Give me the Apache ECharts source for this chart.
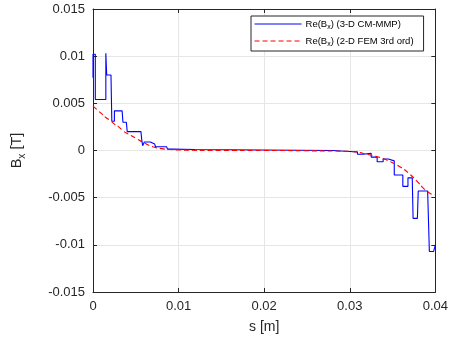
<!DOCTYPE html>
<html>
<head>
<meta charset="utf-8">
<script src="https://cdn.jsdelivr.net/npm/echarts@6/dist/echarts.min.js"></script>
<style>html,body{margin:0;padding:0;background:#fff;}#c{width:451px;height:343px;}</style>
</head>
<body>
<div id="c"></div>
<script>
// Blue series: Re(Bx) (3-D CM-MMP), staircase samples
const blueS = [0, 0, 0.00027, 0.00027, 0.0015, 0.0015, 0.0016, 0.0016, 0.0021, 0.0022, 0.0025, 0.0025, 0.0034, 0.0035, 0.0039, 0.0040, 0.0056, 0.0057, 0.0058, 0.0060, 0.0067, 0.0068, 0.0072, 0.0073, 0.0086, 0.0087, 0.0093, 0.0094, 0.0119, 0.0120, 0.028, 0.030, 0.0309, 0.0309, 0.0315, 0.0316, 0.0325, 0.0325, 0.0332, 0.0332, 0.0339, 0.0339, 0.0345, 0.0345, 0.0352, 0.0352, 0.0362, 0.0362, 0.0368, 0.0368, 0.0373, 0.0374, 0.0379, 0.0380, 0.0391, 0.0393, 0.0398, 0.0400];
const blueV = [0.0077, 0.0102, 0.0102, 0.0054, 0.0054, 0.0103, 0.0103, 0.0080, 0.0080, 0.0031, 0.0031, 0.0042, 0.0042, 0.0030, 0.0030, 0.0020, 0.0020, 0.0011, 0.0005, 0.0009, 0.0009, 0.0007, 0.0007, 0.0004, 0.0004, 0.00015, 0.00015, 0.0001, 0.0001, 0.0, 0.0, -0.0001, -0.00015, -0.0004, -0.0004, -0.0003, -0.0003, -0.0007, -0.0007, -0.0012, -0.0012, -0.0009, -0.0009, -0.0011, -0.0011, -0.0026, -0.0026, -0.0038, -0.0038, -0.0029, -0.0029, -0.0072, -0.0072, -0.0043, -0.0043, -0.0107, -0.0107, -0.0100];
// Red series: Re(Bx) (2-D FEM 3rd ord)
const redS = [0, 0.0005, 0.001, 0.0015, 0.002, 0.0025, 0.003, 0.0035, 0.004, 0.005, 0.006, 0.007, 0.008, 0.009, 0.01, 0.015, 0.02, 0.025, 0.03, 0.031, 0.032, 0.033, 0.034, 0.035, 0.036, 0.037, 0.038, 0.0385, 0.039, 0.0395, 0.04];
const redV = [0.0047, 0.0043, 0.0039, 0.0035, 0.0032, 0.0028, 0.0025, 0.0021, 0.0018, 0.0013, 0.0008, 0.0004, 0.0002, 0.0001, 0.00005, 0, 0, -0.00003, -0.0001, -0.0002, -0.0004, -0.0006, -0.0009, -0.0013, -0.0018, -0.0025, -0.0034, -0.0039, -0.0043, -0.0046, -0.0047];
const xTicks = [0, 0.01, 0.02, 0.03, 0.04];
const yTicks = [-0.015, -0.01, -0.005, 0, 0.005, 0.01, 0.015];
const seriesNames = ['Re(Bx) (3-D CM-MMP)', 'Re(Bx) (2-D FEM 3rd ord)'];
const legendRich = ['Re(B{sub|x}) (3-D CM-MMP)', 'Re(B{sub|x}) (2-D FEM 3rd ord)'];

const AX = '#262626';
const FONT = 'Liberation Sans, Arial, sans-serif';
const fmt = v => String(Math.round(v * 1000) / 1000);

const chart = echarts.init(document.getElementById('c'), null, {renderer: 'canvas'});
const xBase = {
  type: 'value', min: xTicks[0], max: xTicks[xTicks.length - 1], interval: 0.01,
  axisLine: {show: true, onZero: false, lineStyle: {color: AX, width: 1}},
  axisTick: {show: true, inside: true, length: 4, lineStyle: {color: AX}}
};
const yBase = {
  type: 'value', min: yTicks[0], max: yTicks[yTicks.length - 1], interval: 0.005,
  axisLine: {show: true, onZero: false, lineStyle: {color: AX, width: 1}},
  axisTick: {show: true, inside: true, length: 4, lineStyle: {color: AX}}
};
chart.setOption({
  animation: false,
  backgroundColor: '#fff',
  textStyle: {fontFamily: FONT},
  grid: {left: 93, right: 14, top: 9, bottom: 51, containLabel: false},
  legend: {
    orient: 'vertical', left: 251, top: 16,
    padding: [3, 10, 3, 3], itemWidth: 47, itemHeight: 12, itemGap: 5,
    borderColor: AX, borderWidth: 1, backgroundColor: '#fff', borderRadius: 0,
    data: seriesNames,
    itemStyle: {opacity: 0},
    lineStyle: {width: 1.1},
    formatter: name => legendRich[seriesNames.indexOf(name)],
    textStyle: {fontSize: 9.5, color: '#000', fontFamily: FONT, padding: [0, 0, 0, -1],
      rich: {sub: {fontSize: 7, verticalAlign: 'bottom', lineHeight: 14, fontFamily: FONT}}}
  },
  xAxis: [
    Object.assign({}, xBase, {
      position: 'bottom',
      name: 's [m]', nameLocation: 'middle', nameGap: 28,
      nameTextStyle: {fontSize: 14, color: AX, fontFamily: FONT},
      axisLabel: {show: true, fontSize: 13, color: AX, margin: 8, formatter: fmt, fontFamily: FONT},
      splitLine: {show: true, lineStyle: {color: '#e6e6e6', width: 1}}
    }),
    Object.assign({}, xBase, {
      position: 'top', axisLabel: {show: false}, splitLine: {show: false}
    })
  ],
  yAxis: [
    Object.assign({}, yBase, {
      position: 'left',
      name: 'B{sub|x} [T]', nameLocation: 'middle', nameGap: 66, nameRotate: 90,
      nameTextStyle: {fontSize: 14.5, color: AX, fontFamily: FONT,
        rich: {sub: {fontSize: 10, verticalAlign: 'bottom', lineHeight: 21, fontFamily: FONT, color: AX}}},
      axisLabel: {show: true, fontSize: 13, color: AX, margin: 8, formatter: fmt, fontFamily: FONT},
      splitLine: {show: true, lineStyle: {color: '#e6e6e6', width: 1}}
    }),
    Object.assign({}, yBase, {
      position: 'right', axisLabel: {show: false}, splitLine: {show: false}
    })
  ],
  series: [
    {
      name: seriesNames[0], type: 'line', xAxisIndex: 0, yAxisIndex: 0,
      data: blueS.map((s, i) => [s, blueV[i]]),
      showSymbol: false, symbol: 'none', smooth: false,
      lineStyle: {color: '#0000ff', width: 1.1},
      itemStyle: {color: '#0000ff'}, z: 3
    },
    {
      name: seriesNames[1], type: 'line', xAxisIndex: 0, yAxisIndex: 0,
      data: redS.map((s, i) => [s, redV[i]]),
      showSymbol: false, symbol: 'none', smooth: true,
      lineStyle: {color: '#ff0000', width: 1.1, type: [5, 3]},
      itemStyle: {color: '#ff0000'}, z: 4
    }
  ]
});
</script>
</body>
</html>
